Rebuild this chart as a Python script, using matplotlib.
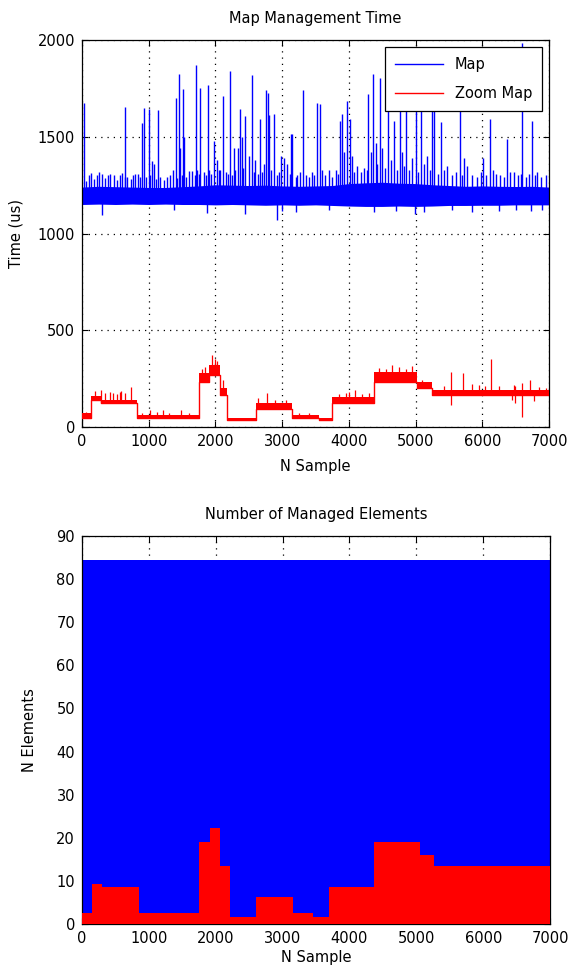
import matplotlib
matplotlib.use("Agg")
import matplotlib.pyplot as plt
import numpy as np

plt.rcParams['font.family'] = ['DejaVu Sans']

# ---------------- data: top chart ----------------
# Map (blue): dense band envelope sampled every 250 samples
blue_env_x = [0, 250, 500, 750, 1000, 1250, 1500, 1750, 2000, 2250, 2500, 2750, 3000,
              3250, 3500, 3750, 4000, 4250, 4500, 4750, 5000, 5250, 5500, 5750, 6000,
              6250, 6500, 6750, 7000]
blue_low = [1150, 1152, 1150, 1152, 1150, 1152, 1150, 1150, 1148, 1150, 1148, 1146, 1148,
            1146, 1148, 1145, 1142, 1140, 1140, 1142, 1140, 1142, 1145, 1145, 1146,
            1146, 1148, 1148, 1148]
blue_high = [1240, 1244, 1242, 1240, 1238, 1238, 1242, 1246, 1252, 1250, 1248, 1250, 1246,
             1244, 1246, 1248, 1258, 1262, 1265, 1260, 1258, 1252, 1248, 1244, 1246,
             1244, 1243, 1244, 1240]
# large upward spikes of the Map series (sample, time us)
blue_spike_x = [35, 650, 900, 935, 1000, 1075, 1135, 1410, 1450, 1475, 1515, 1535, 1710, 1775,
                1885, 1975, 2025, 2115, 2225, 2275, 2335, 2365, 2400, 2450, 2550, 2665, 2760,
                2785, 2800, 2875, 2990, 3025, 3125, 3150, 3310, 3515, 3565, 3865, 3900, 3925,
                3965, 4010, 4050, 4290, 4325, 4365, 4400, 4460, 4500, 4585, 4675, 4760, 4800,
                4860, 4940, 5000, 5075, 5175, 5250, 5275, 5375, 5660, 5725, 6010, 6110, 6375,
                6600, 6740]
blue_spike_y = [1676, 1654, 1573, 1647, 1642, 1360, 1639, 1699, 1825, 1440, 1745, 1500, 1873, 1750,
                1767, 1480, 1380, 1710, 1839, 1440, 1440, 1642, 1500, 1608, 1818, 1590, 1740,
                1728, 1610, 1616, 1402, 1390, 1514, 1514, 1740, 1676, 1668, 1579, 1620, 1420,
                1685, 1590, 1400, 1723, 1420, 1825, 1470, 1805, 1440, 1650, 1582, 1633, 1420,
                1700, 1390, 1760, 1720, 1400, 1700, 1740, 1574, 1660, 1390, 1390, 1590, 1488,
                1985, 1582]
# small upward spikes forming the ragged top of the Map band
blue_small_x = [60, 100, 130, 180, 220, 250, 300, 350, 390, 425, 475, 530, 570, 600, 640, 680,
                740, 770, 800, 835, 870, 960, 1020, 1050, 1110, 1175, 1230, 1275, 1320, 1365,
                1420, 1500, 1560, 1610, 1650, 1690, 1725, 1760, 1825, 1860, 1900, 1940, 2060,
                2075, 2160, 2190, 2250, 2300, 2420, 2500, 2580, 2600, 2640, 2700, 2725, 2840,
                2925, 2960, 3075, 3110, 3200, 3225, 3260, 3350, 3400, 3450, 3480, 3600, 3640,
                3700, 3750, 3800, 3830, 4080, 4125, 4180, 4230, 4270, 4420, 4540, 4625, 4720,
                4830, 4900, 5040, 5120, 5210, 5330, 5420, 5475, 5540, 5600, 5700, 5775, 5850,
                5920, 5980, 6060, 6160, 6200, 6260, 6320, 6420, 6475, 6540, 6580, 6660, 6700,
                6790, 6825, 6880, 6950]
blue_small_y = [1270, 1300, 1315, 1280, 1300, 1320, 1310, 1285, 1300, 1310, 1300, 1275, 1300, 1315,
                1290, 1290, 1280, 1300, 1310, 1310, 1290, 1290, 1300, 1377, 1280, 1290, 1275, 1290,
                1300, 1330, 1285, 1300, 1290, 1325, 1325, 1300, 1330, 1310, 1320, 1300, 1330, 1310,
                1330, 1330, 1320, 1310, 1300, 1330, 1340, 1400, 1320, 1380, 1310, 1320, 1360, 1330,
                1300, 1320, 1360, 1310, 1290, 1300, 1320, 1300, 1290, 1320, 1300, 1330, 1300,
                1330, 1290, 1330, 1310, 1320, 1350, 1320, 1340, 1330, 1360, 1340, 1380, 1330,
                1350, 1330, 1320, 1360, 1330, 1310, 1330, 1350, 1300, 1320, 1300, 1350, 1300,
                1290, 1320, 1300, 1330, 1310, 1300, 1290, 1320, 1320, 1300, 1310, 1290, 1310,
                1300, 1320, 1290, 1300]
# downward spikes of the Map series
blue_dip_x = [300, 1380, 1880, 2450, 2920, 3000, 3200, 3700, 4380, 4700, 4990, 5130, 5550,
              5850, 6250, 6500, 6725, 6900]
blue_dip_y = [1095, 1120, 1105, 1100, 1072, 1115, 1110, 1120, 1110, 1115, 1100, 1110, 1120,
              1110, 1115, 1120, 1115, 1120]

# Zoom Map (red): piecewise levels (segment start, base level, top of dense band)
red_seg_x = [0, 140, 290, 830, 1750, 1900, 2065, 2180, 2610, 3145, 3545, 3745, 4380, 5020, 5240, 7000]
red_low = [48, 140, 124, 47, 233, 269, 165, 36, 92, 47, 36, 124, 233, 200, 165, 165]
red_high = [70, 162, 142, 60, 280, 318, 200, 45, 124, 62, 45, 155, 285, 233, 190, 190]
red_spike_x = [60, 200, 290, 350, 415, 465, 520, 565, 590, 650, 740, 900, 1015, 1120, 1215,
               1300, 1490, 1600, 1800, 1850, 1950, 1990, 2020, 2120, 2645, 2770, 2900, 3050,
               3250, 3400, 3850, 3950, 4000, 4095, 4200, 4300, 4450, 4550, 4650, 4750, 4850,
               4950, 5100, 5420, 5535, 5705, 5850, 5950, 6045, 6135, 6250, 6470, 6495, 6600,
               6720, 6850, 6950]
red_spike_y = [78, 185, 191, 175, 180, 178, 170, 182, 185, 175, 207, 72, 88, 75, 88,
               72, 88, 72, 300, 310, 372, 350, 340, 242, 150, 175, 140, 138,
               72, 70, 170, 175, 180, 191, 170, 178, 305, 300, 320, 310, 300,
               315, 245, 210, 284, 279, 220, 215, 210, 351, 210, 215, 210, 225,
               243, 205, 200]
red_dip_x = [5535, 6445, 6495, 6595, 6770]
red_dip_y = [114, 140, 125, 52, 135]

# ---------------- data: bottom chart ----------------
total_elements = 84.4
zoom_step_x = [0, 150, 300, 850, 1750, 1920, 2070, 2220, 2600, 3150, 3450, 3700, 4370, 5050, 5270, 7000]
zoom_step_y = [2.5, 9.4, 8.5, 2.5, 19, 22.2, 13.5, 1.7, 6.3, 2.5, 1.7, 8.5, 19, 16, 13.5, 13.5]

x_ticks = [0, 1000, 2000, 3000, 4000, 5000, 6000, 7000]

# ---------------- figure ----------------
fig = plt.figure(figsize=(5.70, 9.74), dpi=100)
ax1 = fig.add_axes([0.1439, 0.5616, 0.8193, 0.3973])
ax2 = fig.add_axes([0.1439, 0.0513, 0.8211, 0.3984])

blue = '#0000ff'
red = '#ff0000'
fs = 10.5

def style(ax):
    ax.set_axisbelow(True)
    ax.grid(True, linestyle=(0, (1, 4)), color='black', linewidth=0.9)
    ax.tick_params(direction='in', top=True, right=True, length=4, labelsize=fs, width=0.8,
                   pad=5)
    for s in ax.spines.values():
        s.set_linewidth(0.9)
    ax.set_xticks(x_ticks)

def base_at(xs, seg_x, levels):
    idx = np.clip(np.searchsorted(seg_x, xs, side='right') - 1, 0, len(levels) - 1)
    return np.asarray(levels)[idx]

# top: Map
ax1.fill_between(blue_env_x, blue_low, blue_high, color=blue, lw=0, zorder=2)
ax1.vlines(blue_small_x, [1200] * len(blue_small_x), blue_small_y, color=blue, lw=1.0, zorder=2)
ax1.vlines(blue_spike_x, [1200] * len(blue_spike_x), blue_spike_y, color=blue, lw=1.0, zorder=2)
ax1.vlines(blue_dip_x, blue_dip_y, [1180] * len(blue_dip_x), color=blue, lw=1.0, zorder=2)
# top: Zoom Map
ax1.fill_between(red_seg_x, red_low, red_high, step='post', color=red, lw=0, zorder=3)
ax1.step(red_seg_x, red_low, where='post', color=red, lw=1.0, zorder=3)
ax1.vlines(red_spike_x, base_at(red_spike_x, red_seg_x, red_low), red_spike_y,
           color=red, lw=0.9, zorder=3)
ax1.vlines(red_dip_x, red_dip_y, base_at(red_dip_x, red_seg_x, red_low),
           color=red, lw=0.9, zorder=3)
ax1.plot([], [], color=blue, lw=1, label='Map')
ax1.plot([], [], color=red, lw=1, label='Zoom Map')
ax1.set_xlim(0, 7000)
ax1.set_ylim(0, 2000)
ax1.set_yticks([0, 500, 1000, 1500, 2000])
style(ax1)
leg = ax1.legend(loc='upper right', fontsize=fs, fancybox=False, framealpha=1,
                 edgecolor='black', borderaxespad=0.45, handlelength=3.3,
                 borderpad=0.7, labelspacing=0.95)
leg.get_frame().set_linewidth(0.9)
leg.set_zorder(10)
ax1.set_title('Map Management Time', fontsize=fs, pad=12)
ax1.set_xlabel('N Sample', fontsize=fs, labelpad=7)
ax1.set_ylabel('Time (us)', fontsize=fs, labelpad=10)

# bottom
ax2.fill_between([0, 7000], [total_elements, total_elements], 0, color=blue, lw=0, zorder=2)
ax2.fill_between(zoom_step_x, zoom_step_y, 0, step='post', color=red, lw=0, zorder=3)
ax2.set_xlim(0, 7000)
ax2.set_ylim(0, 90)
ax2.set_yticks(range(0, 91, 10))
style(ax2)
ax2.set_title('Number of Managed Elements', fontsize=fs, pad=12)
ax2.set_xlabel('N Sample', fontsize=fs, labelpad=3)
ax2.set_ylabel('N Elements', fontsize=fs, labelpad=14)

fig.savefig('out.png', dpi=100)
